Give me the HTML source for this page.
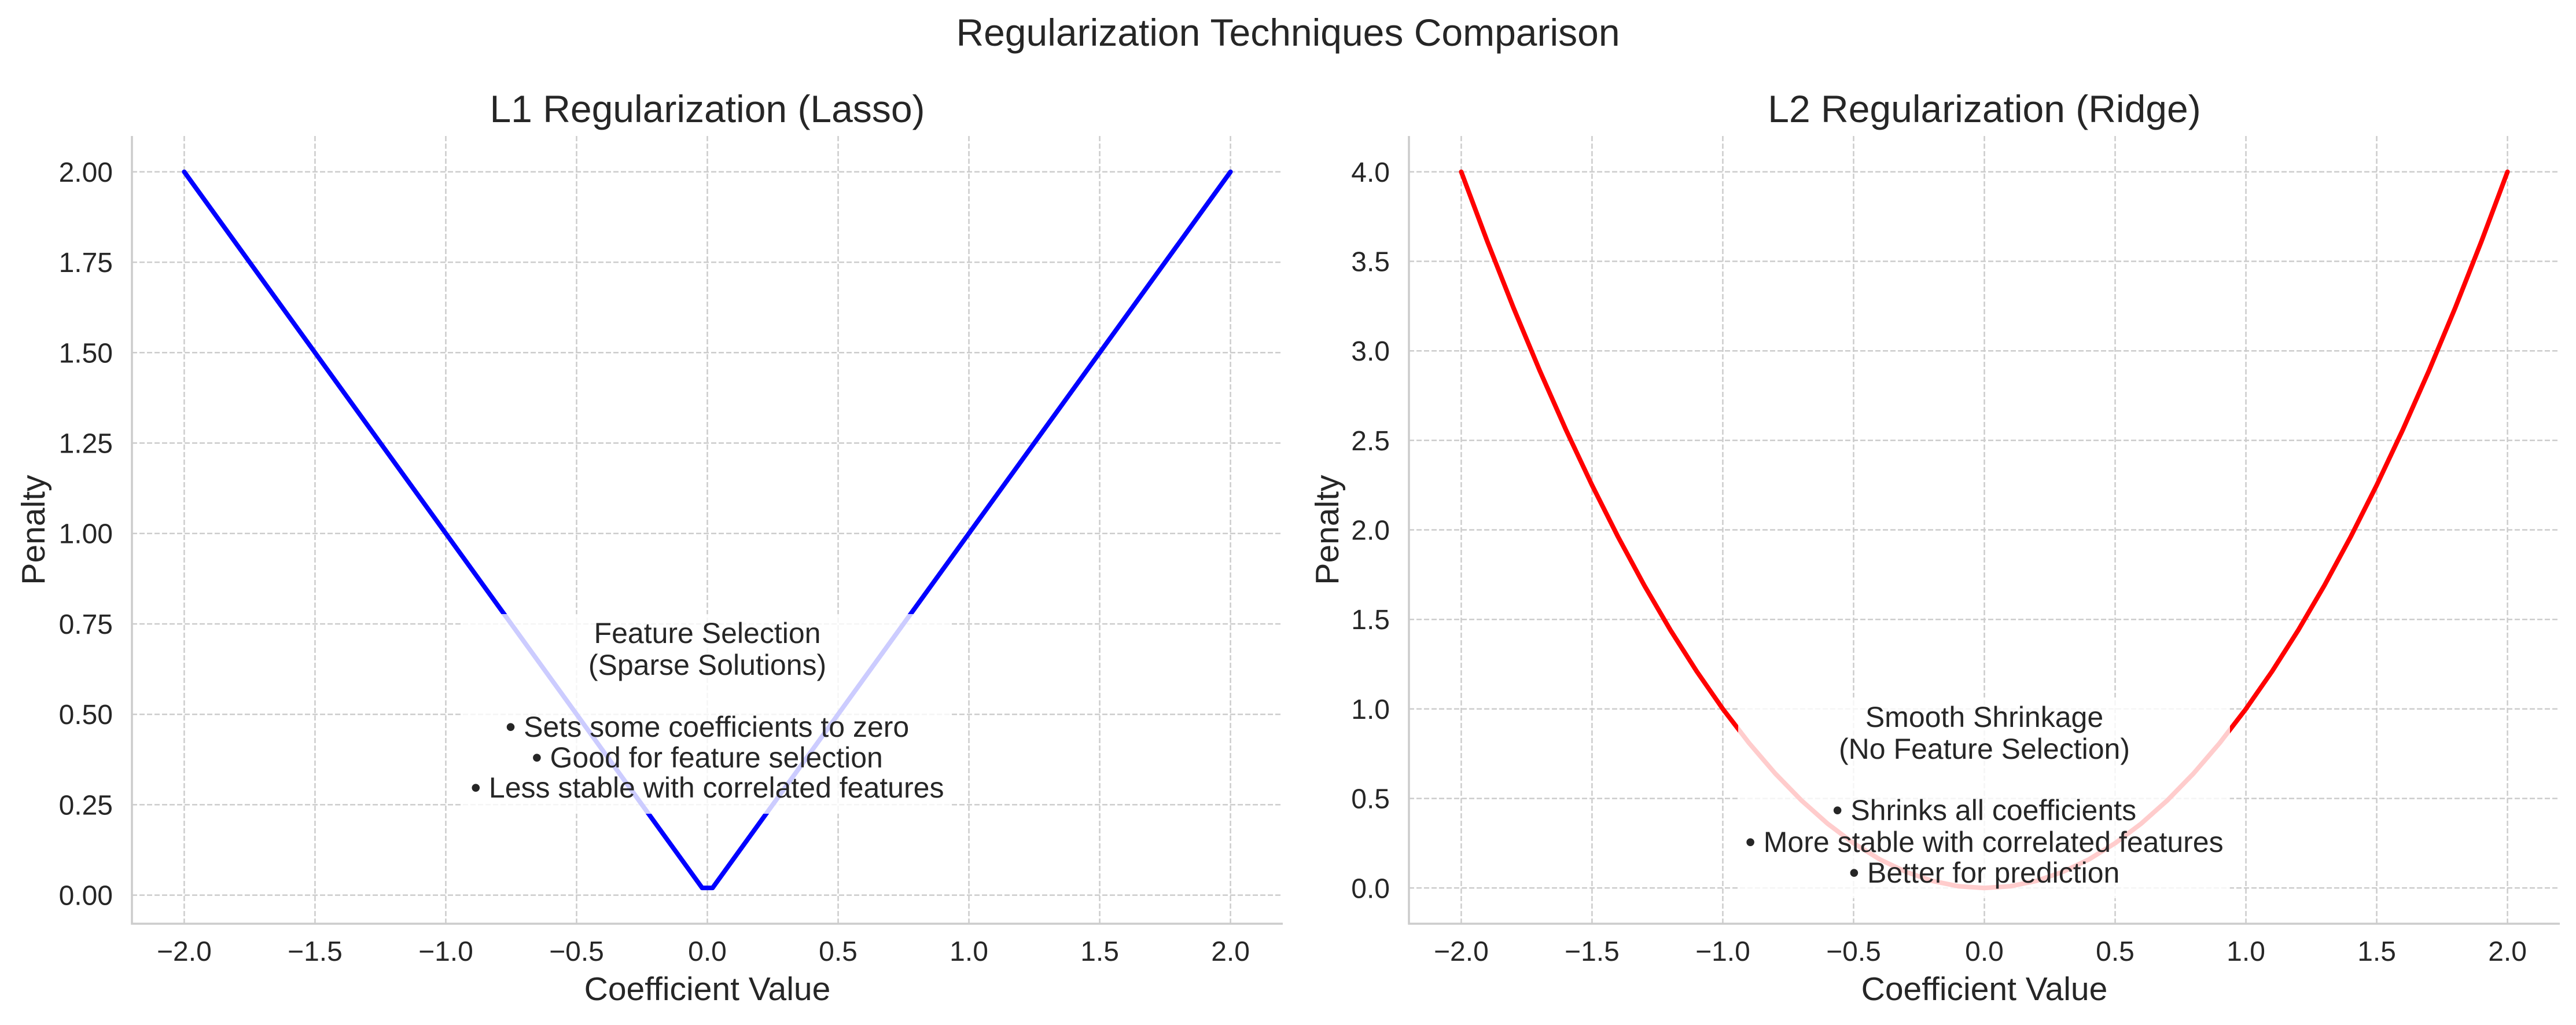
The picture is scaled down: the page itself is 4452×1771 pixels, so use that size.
<!DOCTYPE html>
<html><head><meta charset="utf-8"><style>
html,body{margin:0;padding:0;background:#fff;}
svg{display:block;font-family:"Liberation Sans",sans-serif;}
</style></head><body>
<svg id="chart" width="4452" height="1771" viewBox="0 0 4452 1771" xmlns="http://www.w3.org/2000/svg">
<rect width="4452" height="1771" fill="#fff"/>
<text x="2226" y="79" font-size="66" text-anchor="middle" fill="#262626">Regularization Techniques Comparison</text>
</svg>
<script>
const xTicks = [-2.0,-1.5,-1.0,-0.5,0.0,0.5,1.0,1.5,2.0];
const l1YTicks = [0,0.25,0.5,0.75,1.0,1.25,1.5,1.75,2.0];
const l2YTicks = [0,0.5,1.0,1.5,2.0,2.5,3.0,3.5,4.0];
const l1Coef = [-2.0,-1.0,-0.02,0.02,1.0,2.0];
const l1Penalty = [2.0,1.0,0.02,0.02,1.0,2.0];
const l2Coef = [-2.0,-1.9,-1.8,-1.7,-1.6,-1.5,-1.4,-1.3,-1.2,-1.1,-1.0,-0.9,-0.8,-0.7,-0.6,-0.5,-0.4,-0.3,-0.2,-0.1,0.0,0.1,0.2,0.3,0.4,0.5,0.6,0.7,0.8,0.9,1.0,1.1,1.2,1.3,1.4,1.5,1.6,1.7,1.8,1.9,2.0];
const l2Penalty = [4.0,3.61,3.24,2.89,2.56,2.25,1.96,1.69,1.44,1.21,1.0,0.81,0.64,0.49,0.36,0.25,0.16,0.09,0.04,0.01,0.0,0.01,0.04,0.09,0.16,0.25,0.36,0.49,0.64,0.81,1.0,1.21,1.44,1.69,1.96,2.25,2.56,2.89,3.24,3.61,4.0];
const l1Notes = ["Feature Selection","(Sparse Solutions)","","• Sets some coefficients to zero","• Good for feature selection","• Less stable with correlated features"];
const l2Notes = ["Smooth Shrinkage","(No Feature Selection)","","• Shrinks all coefficients","• More stable with correlated features","• Better for prediction"];

const NS="http://www.w3.org/2000/svg";
const svg=document.getElementById('chart');
function mk(tag,attrs,parent){const e=document.createElementNS(NS,tag);for(const k in attrs)e.setAttribute(k,attrs[k]);(parent||svg).appendChild(e);return e;}

function panel(o){
  const g=mk('g',{});
  
  
  const sx=v=>o.x0+(v-o.xmin)/(o.xmax-o.xmin)*(o.x1-o.x0);
  const sy=v=>o.y1-(v-o.ymin)/(o.ymax-o.ymin)*(o.y1-o.y0);
  xTicks.forEach(t=>{
    const l=mk('line',{x1:sx(t),x2:sx(t),y1:o.y0,y2:o.y1,stroke:'#cccccc','stroke-width':2.5,'stroke-dasharray':'9,4'},g);
    
    
    const tx=mk('text',{x:sx(t),y:1660,'font-size':48,'text-anchor':'middle',fill:'#262626'},g);
    tx.textContent=(t<0?'\u2212':'')+Math.abs(t).toFixed(1);
    
    
  });
  o.yTicks.forEach(t=>{
    const l=mk('line',{x1:o.x0,x2:o.x1,y1:sy(t),y2:sy(t),stroke:'#cccccc','stroke-width':2.5,'stroke-dasharray':'9,4'},g);
    
    
    const tx=mk('text',{x:o.x0-33,y:sy(t)+17,'font-size':48,'text-anchor':'end',fill:'#262626'},g);
    tx.textContent=t.toFixed(o.dec);
    
    
  });
  const pts=o.xs.map((v,i)=>sx(v).toFixed(1)+','+sy(o.ys[i]).toFixed(1)).join(' ');
  const pl=mk('polyline',{points:pts,fill:'none',stroke:o.color,'stroke-width':8,'stroke-linejoin':'round','stroke-linecap':'round'},g);
  
  
  const bx=mk('rect',{x:o.box[0],y:o.box[1],width:o.box[2],height:o.box[3],fill:'#ffffff','fill-opacity':0.8},g);
  
  
  const cx=sx(0);
  o.notes.forEach((s,i)=>{
    if(!s)return;
    const tx=mk('text',{x:cx,y:o.noteBase[i],'font-size':50,'text-anchor':'middle',fill:'#262626'},g);
    tx.textContent=s;
    
    
  });
  const sl=mk('line',{x1:o.x0,x2:o.x0,y1:o.y0,y2:o.y1+1.5,stroke:'#cccccc','stroke-width':3.5},g);
  
  
  const sb=mk('line',{x1:o.x0-1.5,x2:o.x1,y1:o.y1,y2:o.y1,stroke:'#cccccc','stroke-width':3.5},g);
  
  
  const ti=mk('text',{x:(o.x0+o.x1)/2,y:211,'font-size':66,'text-anchor':'middle',fill:'#262626'},g);
  ti.textContent=o.title;
  
  
  const xl=mk('text',{x:(o.x0+o.x1)/2,y:1728,'font-size':57,'text-anchor':'middle',fill:'#262626'},g);
  xl.textContent='Coefficient Value';
  
  
  const yx=o.ylabX, yy=(o.y0+o.y1)/2;
  const yl=mk('text',{x:yx,y:yy,'font-size':57,'text-anchor':'middle',fill:'#262626',transform:'rotate(-90 '+yx+' '+yy+')'},g);
  yl.textContent='Penalty';
  
  
}

panel({name:'l1-panel',lineName:'l1-penalty-line',x0:228,x1:2217,y0:235,y1:1596,xmin:-2.2,xmax:2.2,ymin:-0.079,ymax:2.099,
  yTicks:l1YTicks,dec:2,xs:l1Coef,ys:l1Penalty,color:'#0000ff',title:'L1 Regularization (Lasso)',
  notes:l1Notes,noteBase:[1111,1166,0,1273,1326,1378],box:[799,1061,846,345],ylabX:77});
panel({name:'l2-panel',lineName:'l2-penalty-line',x0:2435,x1:4424,y0:235,y1:1596,xmin:-2.2,xmax:2.2,ymin:-0.1996,ymax:4.2,
  yTicks:l2YTicks,dec:1,xs:l2Coef,ys:l2Penalty,color:'#ff0000',title:'L2 Regularization (Ridge)',
  notes:l2Notes,noteBase:[1256,1311,0,1417,1472,1525],box:[3004,1205,850,347],ylabX:2313});
</script>
</body></html>
